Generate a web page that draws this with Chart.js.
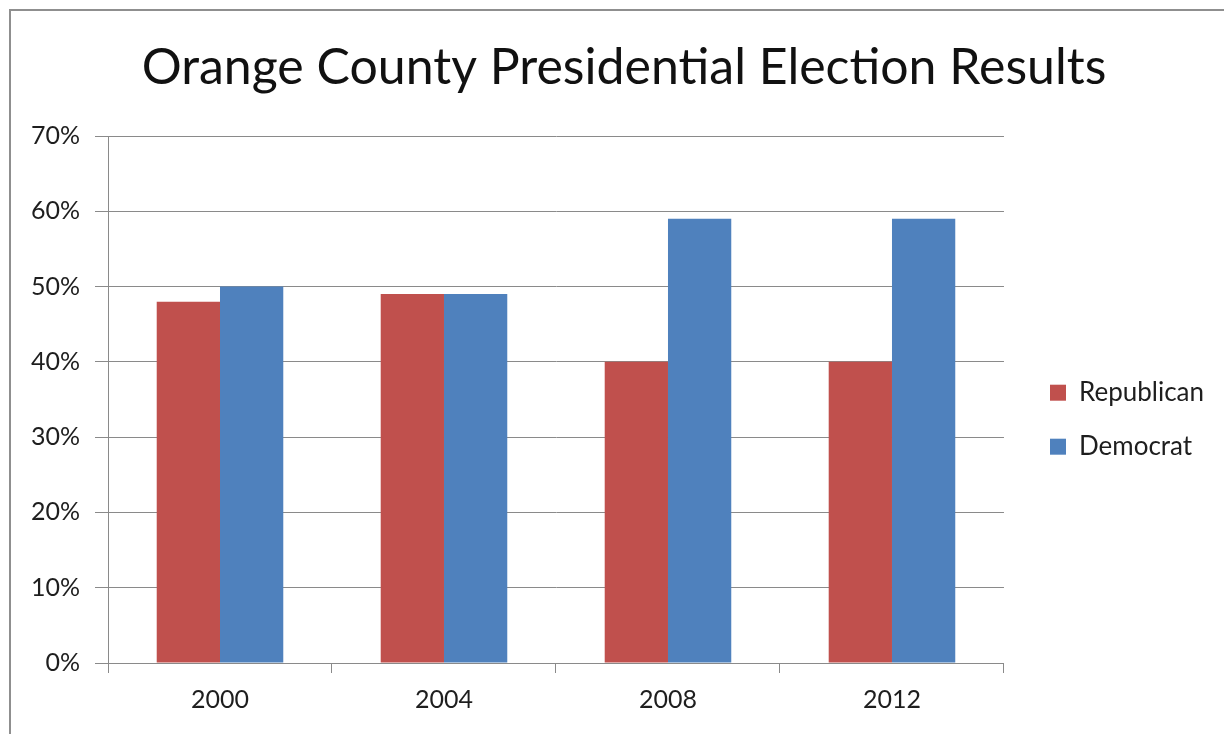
<!DOCTYPE html>
<html>
<head>
<meta charset="utf-8">
<title>Orange County Presidential Election Results</title>
<script src="https://cdn.jsdelivr.net/npm/chart.js@4/dist/chart.umd.min.js"></script>
<style>
    body { margin: 0; background: #ffffff; overflow: hidden; }
    #frame {
        position: absolute; left: 9px; top: 9px;
        width: 1400px; height: 900px;
        border-left: 2px solid #8f8f8f;
        border-top: 2px solid #8f8f8f;
    }
    #wrap { position: absolute; left: 0; top: 0; width: 1224px; height: 734px; }
</style>
</head>
<body>
<div id="frame"></div>
<div id="wrap"><canvas id="electionChart" width="1224" height="734"></canvas></div>
<script>
// Election years and vote share (percent) per party
const years = ['2000', '2004', '2008', '2012'];
const republican = [48, 49, 40, 40];
const democrat = [50, 49, 59, 59];

const gridGray = '#8a8a8a';
const textColor = '#1e1e1e';
const fontFamily = 'Lato, "Open Sans", sans-serif';

// Nudge the legend away from the plot area and centre the title over the whole frame
const boxOffsets = {
    id: 'boxOffsets',
    afterLayout(chart) {
        if (chart.legend) {
            chart.legend.left += 18;
            chart.legend.right += 18;
        }
        if (chart.titleBlock) {
            chart.titleBlock.left += 26;
            chart.titleBlock.right += 26;
        }
    }
};

const electionChart = new Chart(document.getElementById('electionChart').getContext('2d'), {
    type: 'bar',
    data: {
        labels: years,
        datasets: [{
            label: 'Republican',
            data: republican,
            backgroundColor: '#c0504d',
            borderWidth: 0
        }, {
            label: 'Democrat',
            data: democrat,
            backgroundColor: '#4f81bd',
            borderWidth: 0
        }]
    },
    plugins: [boxOffsets],
    options: {
        responsive: false,
        animation: false,
        layout: {
            padding: { top: 0, right: 28, bottom: 7, left: 0 }
        },
        datasets: {
            bar: {
                categoryPercentage: 0.565,
                barPercentage: 1.0
            }
        },
        plugins: {
            title: {
                display: true,
                text: 'Orange County Presidential Election Results',
                color: '#111111',
                font: { family: fontFamily, size: 50, weight: 'normal' },
                padding: { top: 38, bottom: 38 }
            },
            legend: {
                display: true,
                position: 'right',
                align: 'center',
                title: {
                    display: true,
                    text: '',
                    padding: { top: 98, bottom: 0 }
                },
                labels: {
                    boxWidth: 16,
                    boxHeight: 16,
                    padding: 28,
                    color: textColor,
                    font: { family: fontFamily, size: 26 }
                }
            },
            tooltip: { enabled: false }
        },
        scales: {
            x: {
                grid: {
                    offset: true,
                    drawOnChartArea: false,
                    drawTicks: true,
                    tickLength: 10,
                    color: gridGray
                },
                border: { display: true, color: gridGray, width: 1 },
                ticks: {
                    color: textColor,
                    padding: 12,
                    font: { family: fontFamily, size: 25 }
                }
            },
            y: {
                min: 0,
                max: 70,
                grid: {
                    color: gridGray,
                    tickLength: 13
                },
                border: { display: true, color: gridGray, width: 1 },
                ticks: {
                    stepSize: 10,
                    color: textColor,
                    padding: 15,
                    font: { family: fontFamily, size: 25 },
                    callback: function(value) {
                        return value + '%';
                    }
                },
                afterFit: function(scale) {
                    scale.width = 108;
                }
            }
        }
    }
});
</script>
</body>
</html>
